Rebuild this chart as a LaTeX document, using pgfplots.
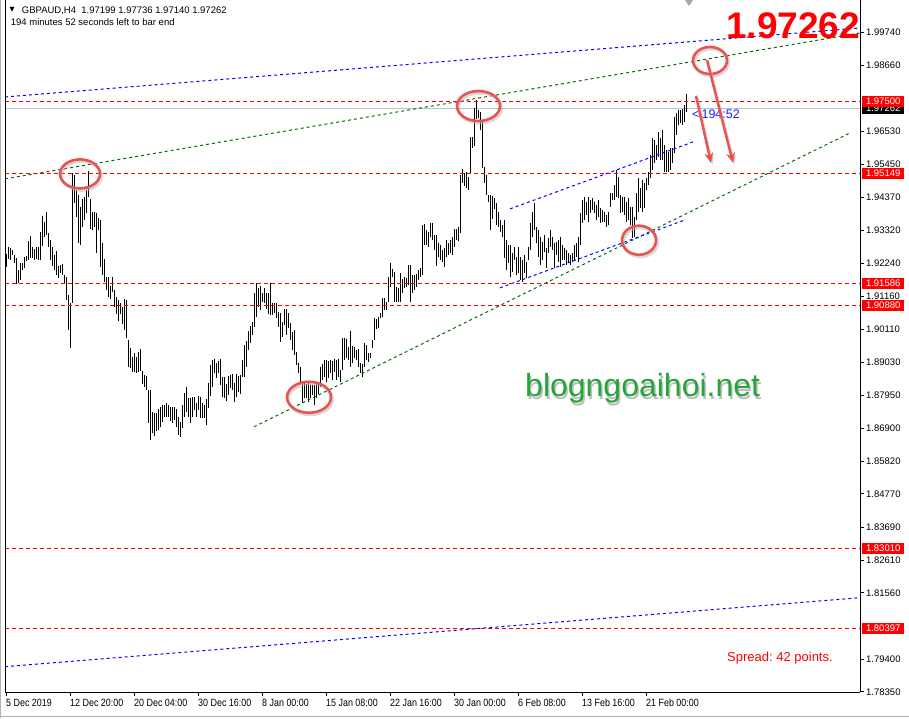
\documentclass[border=0pt]{standalone}
\usepackage{fontspec}
\setmainfont{Liberation Sans}
\newfontfamily\narrowfont[FakeStretch=0.85]{Liberation Sans}
\newfontfamily\dejavu{DejaVu Sans}
\usepackage{pgfplots}
\usepackage{pgfplotstable}
\pgfplotsset{compat=1.18}
\usetikzlibrary{arrows.meta}
\definecolor{mtred}{RGB}{255,0,0}
\definecolor{mtblue}{RGB}{0,0,255}
\definecolor{mtgreen}{RGB}{0,110,0}
\definecolor{annot}{RGB}{232,84,84}
\definecolor{wmgreen}{RGB}{38,166,58}
\definecolor{curgray}{RGB}{192,192,192}
\definecolor{txtblue}{RGB}{30,30,255}

\pgfplotstableread{
x lo hi
6 1.9213 1.9255
8 1.9239 1.9278
10 1.9235 1.9274
12 1.9252 1.9268
14 1.9226 1.9252
16 1.9158 1.9242
18 1.9161 1.9203
20 1.9171 1.9226
22 1.9203 1.9226
24 1.9210 1.9245
26 1.9232 1.9248
28 1.9235 1.9297
30 1.9242 1.9313
32 1.9242 1.9278
34 1.9235 1.9271
36 1.9239 1.9278
38 1.9235 1.9278
40 1.9235 1.9326
42 1.9281 1.9378
44 1.9310 1.9358
46 1.9316 1.9391
48 1.9278 1.9323
50 1.9235 1.9300
52 1.9216 1.9278
54 1.9203 1.9252
56 1.9187 1.9264
58 1.9177 1.9216
60 1.9193 1.9219
62 1.9187 1.9222
64 1.9161 1.9187
66 1.9106 1.9180
68 1.9009 1.9122
70 1.8950 1.9096
72 1.9096 1.9517
74 1.9420 1.9511
76 1.9375 1.9462
78 1.9290 1.9446
80 1.9284 1.9407
82 1.9342 1.9433
84 1.9365 1.9439
86 1.9388 1.9462
88 1.9439 1.9524
90 1.9336 1.9433
92 1.9333 1.9391
94 1.9342 1.9391
96 1.9258 1.9388
98 1.9333 1.9371
100 1.9213 1.9365
102 1.9187 1.9290
104 1.9164 1.9239
106 1.9138 1.9180
108 1.9115 1.9180
110 1.9109 1.9151
112 1.9132 1.9180
114 1.9083 1.9138
116 1.9060 1.9115
118 1.9038 1.9106
120 1.9060 1.9096
122 1.9028 1.9083
124 1.9009 1.9109
126 1.8983 1.9106
128 1.8889 1.8976
130 1.8886 1.8950
132 1.8873 1.8921
134 1.8873 1.8934
136 1.8869 1.8921
138 1.8873 1.8937
140 1.8876 1.8947
142 1.8834 1.8876
144 1.8824 1.8863
146 1.8814 1.8860
148 1.8707 1.8814
150 1.8652 1.8814
152 1.8675 1.8743
154 1.8665 1.8740
156 1.8681 1.8740
158 1.8685 1.8753
160 1.8694 1.8759
162 1.8711 1.8765
164 1.8727 1.8765
166 1.8727 1.8772
168 1.8727 1.8765
170 1.8714 1.8759
172 1.8707 1.8759
174 1.8717 1.8759
176 1.8694 1.8753
178 1.8668 1.8727
180 1.8662 1.8711
182 1.8691 1.8765
184 1.8727 1.8804
186 1.8743 1.8824
188 1.8727 1.8788
190 1.8707 1.8788
192 1.8727 1.8792
194 1.8749 1.8792
196 1.8727 1.8772
198 1.8749 1.8795
200 1.8724 1.8792
202 1.8724 1.8772
204 1.8724 1.8765
206 1.8701 1.8785
208 1.8756 1.8837
210 1.8795 1.8895
212 1.8824 1.8911
214 1.8869 1.8915
216 1.8853 1.8902
218 1.8869 1.8908
220 1.8830 1.8915
222 1.8792 1.8857
224 1.8788 1.8857
226 1.8778 1.8834
228 1.8798 1.8860
230 1.8821 1.8863
232 1.8814 1.8866
234 1.8775 1.8837
236 1.8792 1.8866
238 1.8808 1.8860
240 1.8801 1.8863
242 1.8857 1.8911
244 1.8857 1.8960
246 1.8889 1.8973
248 1.8944 1.9005
250 1.8967 1.9022
252 1.8992 1.9034
254 1.9018 1.9128
256 1.9051 1.9161
258 1.9083 1.9145
260 1.9073 1.9151
262 1.9099 1.9128
264 1.9096 1.9145
266 1.9077 1.9128
268 1.9060 1.9128
270 1.9057 1.9161
272 1.9057 1.9096
274 1.9064 1.9096
276 1.9047 1.9096
278 1.9018 1.9067
280 1.8970 1.9064
282 1.8986 1.9034
284 1.9025 1.9077
286 1.8992 1.9077
288 1.9015 1.9064
290 1.8976 1.9031
292 1.8944 1.9002
294 1.8928 1.9009
296 1.8895 1.8937
298 1.8869 1.8902
300 1.8840 1.8889
302 1.8772 1.8840
304 1.8788 1.8840
306 1.8788 1.8834
308 1.8775 1.8840
310 1.8788 1.8830
312 1.8798 1.8830
314 1.8765 1.8830
316 1.8788 1.8837
318 1.8801 1.8837
320 1.8824 1.8889
322 1.8847 1.8898
324 1.8857 1.8911
326 1.8840 1.8911
328 1.8853 1.8908
330 1.8869 1.8911
332 1.8847 1.8908
334 1.8873 1.8915
336 1.8847 1.8911
338 1.8857 1.8915
340 1.8840 1.8879
342 1.8879 1.8983
344 1.8911 1.8983
346 1.8918 1.8979
348 1.8911 1.8954
350 1.8889 1.9005
352 1.8902 1.8957
354 1.8918 1.8954
356 1.8911 1.8944
358 1.8889 1.8947
360 1.8869 1.8902
362 1.8857 1.8898
364 1.8889 1.8967
366 1.8911 1.8960
368 1.8905 1.8934
370 1.8918 1.8934
372 1.8950 1.8976
374 1.8976 1.9047
376 1.9012 1.9044
378 1.9015 1.9051
380 1.9047 1.9064
382 1.9051 1.9112
384 1.9073 1.9112
386 1.9073 1.9099
388 1.9099 1.9180
390 1.9148 1.9226
392 1.9180 1.9206
394 1.9099 1.9196
396 1.9099 1.9148
398 1.9099 1.9145
400 1.9099 1.9193
402 1.9128 1.9174
404 1.9145 1.9180
406 1.9148 1.9177
408 1.9154 1.9219
410 1.9099 1.9219
412 1.9128 1.9187
414 1.9138 1.9187
416 1.9148 1.9190
418 1.9171 1.9203
420 1.9180 1.9210
422 1.9187 1.9349
424 1.9284 1.9352
426 1.9284 1.9333
428 1.9278 1.9326
430 1.9310 1.9355
432 1.9300 1.9355
434 1.9268 1.9316
436 1.9216 1.9316
438 1.9245 1.9290
440 1.9235 1.9284
442 1.9229 1.9268
444 1.9213 1.9274
446 1.9245 1.9300
448 1.9252 1.9290
450 1.9258 1.9300
452 1.9252 1.9310
454 1.9278 1.9336
456 1.9300 1.9336
458 1.9297 1.9342
460 1.9323 1.9511
462 1.9485 1.9530
464 1.9475 1.9517
466 1.9469 1.9520
468 1.9462 1.9504
470 1.9517 1.9634
472 1.9598 1.9634
474 1.9605 1.9728
476 1.9692 1.9754
478 1.9695 1.9721
480 1.9657 1.9715
482 1.9533 1.9682
484 1.9485 1.9537
486 1.9446 1.9511
488 1.9423 1.9446
490 1.9333 1.9446
492 1.9368 1.9443
494 1.9401 1.9436
496 1.9349 1.9420
498 1.9342 1.9391
500 1.9326 1.9365
502 1.9310 1.9349
504 1.9242 1.9365
506 1.9203 1.9300
508 1.9226 1.9284
510 1.9180 1.9284
512 1.9196 1.9258
514 1.9235 1.9278
516 1.9187 1.9245
518 1.9193 1.9278
520 1.9171 1.9245
522 1.9164 1.9235
524 1.9193 1.9252
526 1.9177 1.9229
528 1.9235 1.9278
530 1.9268 1.9355
532 1.9310 1.9391
534 1.9333 1.9420
536 1.9290 1.9342
538 1.9245 1.9333
540 1.9219 1.9310
542 1.9235 1.9294
544 1.9261 1.9316
546 1.9210 1.9274
548 1.9258 1.9307
550 1.9278 1.9333
552 1.9268 1.9310
554 1.9210 1.9290
556 1.9252 1.9294
558 1.9229 1.9300
560 1.9213 1.9310
562 1.9235 1.9284
564 1.9235 1.9274
566 1.9219 1.9268
568 1.9226 1.9258
570 1.9219 1.9252
572 1.9229 1.9258
574 1.9235 1.9284
576 1.9245 1.9290
578 1.9229 1.9310
580 1.9284 1.9388
582 1.9355 1.9430
584 1.9365 1.9439
586 1.9381 1.9423
588 1.9358 1.9439
590 1.9388 1.9430
592 1.9397 1.9436
594 1.9388 1.9423
596 1.9365 1.9414
598 1.9375 1.9430
600 1.9355 1.9404
602 1.9358 1.9397
604 1.9358 1.9391
606 1.9342 1.9381
608 1.9349 1.9391
610 1.9407 1.9452
612 1.9430 1.9452
614 1.9430 1.9478
616 1.9439 1.9527
618 1.9436 1.9504
620 1.9388 1.9446
622 1.9391 1.9439
624 1.9381 1.9439
626 1.9358 1.9423
628 1.9365 1.9436
630 1.9349 1.9407
632 1.9307 1.9407
634 1.9310 1.9375
636 1.9365 1.9452
638 1.9391 1.9501
640 1.9404 1.9469
642 1.9391 1.9495
644 1.9404 1.9485
646 1.9462 1.9501
648 1.9478 1.9520
650 1.9501 1.9576
652 1.9527 1.9631
654 1.9550 1.9624
656 1.9559 1.9608
658 1.9569 1.9650
660 1.9559 1.9631
662 1.9559 1.9657
664 1.9520 1.9608
666 1.9520 1.9592
668 1.9520 1.9585
670 1.9527 1.9598
672 1.9550 1.9598
674 1.9582 1.9699
676 1.9640 1.9712
678 1.9673 1.9721
680 1.9679 1.9721
682 1.9673 1.9725
684 1.9682 1.9738
686 1.9714 1.9774
}\bars

\pgfplotstableread{
x y
5 1.97500
860 1.97500
}\levA
\pgfplotstableread{
x y
5 1.95149
860 1.95149
}\levB
\pgfplotstableread{
x y
5 1.91586
860 1.91586
}\levC
\pgfplotstableread{
x y
5 1.90880
860 1.90880
}\levD
\pgfplotstableread{
x y
5 1.83010
860 1.83010
}\levE
\pgfplotstableread{
x y
5 1.80397
860 1.80397
}\levF

\begin{document}
\begin{tikzpicture}
\useasboundingbox (-5pt,-26pt) rectangle (904pt,692pt);
\fill[white] (-5pt,-26pt) rectangle (904pt,692pt);
\begin{axis}[
  at={(0pt,0pt)}, anchor=south west,
  width=855pt, height=692pt, scale only axis,
  xmin=5, xmax=860, ymin=1.78345, ymax=2.00777,
  axis x line*=bottom, axis y line*=right,
  axis line style={black, line width=0.8pt},
  tick align=outside, major tick length=4pt,
  tick style={black, line width=0.8pt},
  xtick={6,70,134,198,262,326,390,454,518,582,646},
  xticklabels={5 Dec 2019,12 Dec 20:00,20 Dec 04:00,30 Dec 16:00,8 Jan 00:00,15 Jan 08:00,22 Jan 16:00,30 Jan 00:00,6 Feb 08:00,13 Feb 16:00,21 Feb 00:00},
  xticklabel style={anchor=north west, inner sep=0pt, yshift=-3pt, font=\narrowfont\fontsize{10.5}{12}\selectfont},
  ytick={1.7835,1.794,1.8156,1.8261,1.8369,1.8477,1.8582,1.869,1.8795,1.8903,1.9011,1.9116,1.9224,1.9332,1.9437,1.9545,1.9653,1.9866,1.9974},
  scaled y ticks=false,
  yticklabel style={anchor=west, inner sep=0pt, xshift=2pt, font=\fontsize{9.5}{11}\selectfont,
    /pgf/number format/.cd, fixed, fixed zerofill, precision=5, assume math mode=true},
  clip=false,
]
% current price line
\addplot[draw=curgray, line width=1pt, forget plot] coordinates {(5,1.97262) (860,1.97262)};
% price bars (high-low ranges)
\addplot[draw=none, mark=none, forget plot, error bars/.cd, y dir=plus, y explicit, error mark=none,
  error bar style={draw=black, solid, line width=0.8pt}]
  table[x=x, y=lo, y error expr=\thisrow{hi}-\thisrow{lo}] {\bars};
% trend lines
\addplot[draw=mtblue, line width=1pt, dash pattern=on 3pt off 3pt, forget plot] coordinates {(5,1.97634) (860,1.99870)};
\addplot[draw=mtblue, line width=1pt, dash pattern=on 3pt off 3pt, forget plot] coordinates {(5,1.79166) (860,1.81402)};
\addplot[draw=mtgreen, line width=1pt, dash pattern=on 3pt off 3pt, forget plot] coordinates {(5,1.94978) (860,1.99708)};
\addplot[draw=mtgreen, line width=1pt, dash pattern=on 3pt off 3pt, forget plot] coordinates {(254,1.86942) (850,1.96468)};
\addplot[draw=mtblue, line width=1pt, dash pattern=on 3pt off 3pt, forget plot] coordinates {(510,1.94005) (693,1.96176)};
\addplot[draw=mtblue, line width=1pt, dash pattern=on 3pt off 3pt, forget plot] coordinates {(500,1.91446) (685,1.93649)};
% horizontal levels
\addplot[draw=mtred, line width=1pt, dash pattern=on 4pt off 3pt, forget plot] table {\levA};
\addplot[draw=mtred, line width=1pt, dash pattern=on 4pt off 3pt, forget plot] table {\levB};
\addplot[draw=mtred, line width=1pt, dash pattern=on 4pt off 3pt, forget plot] table {\levC};
\addplot[draw=mtred, line width=1pt, dash pattern=on 4pt off 3pt, forget plot] table {\levD};
\addplot[draw=mtred, line width=1pt, dash pattern=on 4pt off 3pt, forget plot] table {\levE};
\addplot[draw=mtred, line width=1pt, dash pattern=on 4pt off 3pt, forget plot] table {\levF};
% annotation ellipses
\draw[black!30, line width=3pt, opacity=0.5] ([xshift=1.5pt,yshift=-2pt]axis cs:80,1.9514) ellipse [x radius=20pt, y radius=14.5pt];
\draw[annot, line width=2.6pt] (axis cs:80,1.9514) ellipse [x radius=20pt, y radius=14.5pt];
\draw[black!30, line width=3pt, opacity=0.5] ([xshift=1.5pt,yshift=-2pt]axis cs:478.5,1.9734) ellipse [x radius=21.5pt, y radius=15pt];
\draw[annot, line width=2.6pt] (axis cs:478.5,1.9734) ellipse [x radius=21.5pt, y radius=15pt];
\draw[black!30, line width=3pt, opacity=0.5] ([xshift=1.5pt,yshift=-2pt]axis cs:710,1.98817) ellipse [x radius=17pt, y radius=13.5pt];
\draw[annot, line width=2.6pt] (axis cs:710,1.98817) ellipse [x radius=17pt, y radius=13.5pt];
\draw[black!30, line width=3pt, opacity=0.5] ([xshift=1.5pt,yshift=-2pt]axis cs:309,1.8790) ellipse [x radius=22pt, y radius=15.5pt];
\draw[annot, line width=2.6pt] (axis cs:309,1.8790) ellipse [x radius=22pt, y radius=15.5pt];
\draw[black!30, line width=3pt, opacity=0.5] ([xshift=1.5pt,yshift=-2pt]axis cs:639,1.9299) ellipse [x radius=17pt, y radius=14.5pt];
\draw[annot, line width=2.6pt] (axis cs:639,1.9299) ellipse [x radius=17pt, y radius=14.5pt];
\node[anchor=base west, inner sep=0pt, text=txtblue, font=\fontsize{12.5}{14}\selectfont] at (axis cs:692,1.9695) {<\,194:52};
\draw[black!25, line width=2.5pt, opacity=0.5, -{Stealth[length=10pt, width=9pt]}] ([xshift=1.5pt,yshift=-2pt]axis cs:696,1.9767) -- ([xshift=1.5pt,yshift=-2pt]axis cs:711,1.9550);
\draw[black!25, line width=2.5pt, opacity=0.5, -{Stealth[length=10pt, width=9pt]}] ([xshift=1.5pt,yshift=-2pt]axis cs:707,1.98833) -- ([xshift=1.5pt,yshift=-2pt]axis cs:733,1.9550);
\draw[annot, line width=2.5pt, -{Stealth[length=10pt, width=9pt]}] (axis cs:696,1.9767) -- (axis cs:711,1.9550);
\draw[annot, line width=2.5pt, -{Stealth[length=10pt, width=9pt]}] (axis cs:707,1.98833) -- (axis cs:733,1.9550);
% label anchors
\coordinate (c0) at (axis cs:860,1.97262);
\coordinate (c1) at (axis cs:860,1.97500);
\coordinate (c2) at (axis cs:860,1.95149);
\coordinate (c3) at (axis cs:860,1.91586);
\coordinate (c4) at (axis cs:860,1.90880);
\coordinate (c5) at (axis cs:860,1.83010);
\coordinate (c6) at (axis cs:860,1.80397);
\end{axis}
% left border line of chart
\draw[black, line width=0.8pt] (0pt,0pt) -- (0pt,692pt);
\draw[black!30, line width=1.5pt] (-4.3pt,-26pt) -- (-4.3pt,692pt);
\draw[black!30, line width=1.5pt] (-5pt,-24.5pt) -- (904pt,-24.5pt);
% price boxes
\node[fill=black, text=white, inner sep=0pt, minimum width=42pt, minimum height=11pt, anchor=west, font=\fontsize{9.5}{10}\selectfont] at ([xshift=2pt]c0) {1.97262};
\node[fill=mtred, text=white, inner sep=0pt, minimum width=42pt, minimum height=11pt, anchor=west, font=\fontsize{9.5}{10}\selectfont] at ([xshift=2pt]c1) {1.97500};
\node[fill=mtred, text=white, inner sep=0pt, minimum width=42pt, minimum height=11pt, anchor=west, font=\fontsize{9.5}{10}\selectfont] at ([xshift=2pt]c2) {1.95149};
\node[fill=mtred, text=white, inner sep=0pt, minimum width=42pt, minimum height=11pt, anchor=west, font=\fontsize{9.5}{10}\selectfont] at ([xshift=2pt]c3) {1.91586};
\node[fill=mtred, text=white, inner sep=0pt, minimum width=42pt, minimum height=11pt, anchor=west, font=\fontsize{9.5}{10}\selectfont] at ([xshift=2pt]c4) {1.90880};
\node[fill=mtred, text=white, inner sep=0pt, minimum width=42pt, minimum height=11pt, anchor=west, font=\fontsize{9.5}{10}\selectfont] at ([xshift=2pt]c5) {1.83010};
\node[fill=mtred, text=white, inner sep=0pt, minimum width=42pt, minimum height=11pt, anchor=west, font=\fontsize{9.5}{10}\selectfont] at ([xshift=2pt]c6) {1.80397};
% texts
\node[anchor=west, inner sep=0pt, font=\dejavu\fontsize{6.5}{7}\selectfont] at (4.5pt,682pt) {▼};
\node[anchor=base west, inner sep=0pt, font=\fontsize{9.5}{11}\selectfont] at (16.7pt,678.5pt) {GBPAUD,H4\ \ 1.97199 1.97736 1.97140 1.97262};
\node[anchor=base west, inner sep=0pt, font=\fontsize{9.5}{11}\selectfont] at (5.7pt,666pt) {194 minutes 52 seconds left to bar end};
\node[anchor=base west, inner sep=0pt, text=mtred, font=\bfseries\fontsize{37}{40}\selectfont] at (721pt,653.5pt) {1.97262};
\node[anchor=base west, inner sep=0pt, text=black, opacity=0.25, font=\fontsize{32}{36}\selectfont] at (521.5pt,292.5pt) {blogngoaihoi.net};
\node[anchor=base west, inner sep=0pt, text=wmgreen, font=\fontsize{32}{36}\selectfont] at (520pt,295pt) {blogngoaihoi.net};
\node[anchor=base west, inner sep=0pt, text=mtred, font=\fontsize{13}{15}\selectfont] at (722pt,31pt) {Spread:\ 42 points.};
\fill[black!35] (680pt,692pt) -- (688pt,692pt) -- (684pt,686pt) -- cycle;
\end{tikzpicture}
\end{document}
